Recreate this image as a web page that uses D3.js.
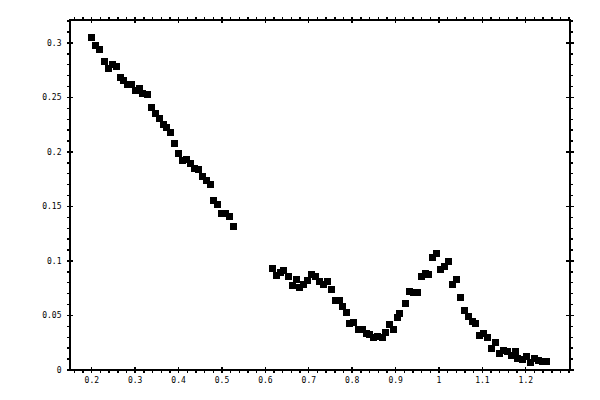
<!DOCTYPE html>
<html><head><meta charset="utf-8">
<script src="https://cdn.jsdelivr.net/npm/d3@7"></script>
<style>body{margin:0;background:#fff}svg{display:block}</style>
</head><body><svg id="c" width="600" height="400"></svg>
<script>
// data
const xValues = [
  0.2009, 0.2108, 0.2200, 0.2300, 0.2392, 0.2484, 0.2585, 0.2668, 0.2747, 0.2839,
  0.2931, 0.3023, 0.3106, 0.3184, 0.3290, 0.3392, 0.3475, 0.3567, 0.3668, 0.3737,
  0.3820, 0.3922, 0.4005, 0.4097, 0.4189, 0.4281, 0.4373, 0.4465, 0.4558, 0.4650,
  0.4742, 0.4811, 0.4903, 0.4995, 0.5088, 0.5180, 0.5272,
  0.617, 0.626, 0.635, 0.644, 0.654, 0.663, 0.672, 0.679, 0.688, 0.698,
  0.707, 0.716, 0.725, 0.735, 0.744, 0.753, 0.762, 0.771, 0.778, 0.787,
  0.796, 0.805, 0.815, 0.824, 0.833, 0.842, 0.851, 0.860, 0.870, 0.878,
  0.888, 0.896, 0.905, 0.911, 0.923, 0.933, 0.942, 0.951, 0.960, 0.969,
  0.977, 0.986, 0.995, 1.004, 1.013, 1.023, 1.032, 1.041, 1.050, 1.059,
  1.069, 1.078, 1.086, 1.095, 1.104, 1.113, 1.123, 1.132, 1.141, 1.150,
  1.159, 1.169, 1.177, 1.183, 1.193, 1.202, 1.212, 1.221, 1.230, 1.239, 1.248
];
const yValues = [
  0.3049, 0.2972, 0.2936, 0.2826, 0.2764, 0.2794, 0.2780, 0.2679, 0.2651, 0.2611,
  0.2611, 0.2560, 0.2581, 0.2528, 0.2523, 0.2404, 0.2349, 0.2303, 0.2244, 0.2217,
  0.2174, 0.2073, 0.1982, 0.1917, 0.1927, 0.1890, 0.1844, 0.1835, 0.1773, 0.1734,
  0.1700, 0.1553, 0.1514, 0.1431, 0.1431, 0.1400, 0.1312,
  0.0927, 0.0862, 0.0886, 0.0905, 0.0856, 0.0771, 0.0826, 0.0752, 0.0776, 0.0817,
  0.0872, 0.0853, 0.0807, 0.0783, 0.0807, 0.0737, 0.0633, 0.0633, 0.0574, 0.0526,
  0.0425, 0.0434, 0.0367, 0.0367, 0.0333, 0.0324, 0.0294, 0.0306, 0.0294, 0.0336,
  0.0416, 0.0367, 0.0480, 0.0514, 0.0608, 0.0716, 0.0706, 0.0706, 0.0856, 0.0881,
  0.0874, 0.1028, 0.1064, 0.0920, 0.0945, 0.0991, 0.0783, 0.0828, 0.0663, 0.0541,
  0.0486, 0.0440, 0.0425, 0.0312, 0.0330, 0.0294, 0.0193, 0.0248, 0.0147, 0.0177,
  0.0165, 0.0131, 0.0168, 0.0101, 0.0092, 0.0122, 0.0064, 0.0097, 0.0085, 0.0076, 0.0076
];
const xTickValues = [0.2, 0.3, 0.4, 0.5, 0.6, 0.7, 0.8, 0.9, 1.0, 1.1, 1.2];
const xTickLabels = ["0.2", "0.3", "0.4", "0.5", "0.6", "0.7", "0.8", "0.9", "1", "1.1", "1.2"];
const yTickValues = [0, 0.05, 0.1, 0.15, 0.2, 0.25, 0.3];
const yTickLabels = ["0", "0.05", "0.1", "0.15", "0.2", "0.25", "0.3"];

const svg = d3.select("#c");
const L = 69.5, R = 570, T = 19.5, B = 369.5;
const x = d3.scaleLinear().domain([0.1498, 1.303]).range([L, R]);
const y = d3.scaleLinear().domain([0, 0.3211]).range([B, T]);

const xMinor = x.ticks(58).filter(v => !xTickValues.some(t => Math.abs(t - v) < 1e-6));
const yMinor = y.ticks(32).filter(v => !yTickValues.some(t => Math.abs(t - v) < 1e-6));

const font = "'DejaVu Sans Mono', monospace";
function style(g) {
  g.select(".domain").remove();
  g.selectAll("line").attr("stroke", "#000").attr("stroke-width", 1.4).attr("shape-rendering", "crispEdges");
  g.selectAll("text").attr("font-family", font).attr("font-size", 8).attr("fill", "#000");
}

// bottom
svg.append("g").attr("transform", `translate(0,${B})`)
  .call(d3.axisBottom(x).tickValues(xMinor).tickSize(3).tickFormat("")).call(style);
svg.append("g").attr("transform", `translate(0,${B})`)
  .call(d3.axisBottom(x).tickValues(xTickValues).tickSize(3).tickPadding(5)
    .tickFormat((d, i) => xTickLabels[i])).call(style)
  .call(g => g.selectAll("line").attr("y1", -3))
  .call(g => g.selectAll("text").attr("y", 8));
// top
svg.append("g").attr("transform", `translate(0,${T})`)
  .call(d3.axisTop(x).tickValues(xMinor).tickSize(3).tickFormat("")).call(style);
svg.append("g").attr("transform", `translate(0,${T})`)
  .call(d3.axisTop(x).tickValues(xTickValues).tickSize(3).tickFormat("")).call(style)
  .call(g => g.selectAll("line").attr("y1", 3));
// left
svg.append("g").attr("transform", `translate(${L},0)`)
  .call(d3.axisLeft(y).tickValues(yMinor).tickSize(3).tickFormat("")).call(style);
svg.append("g").attr("transform", `translate(${L},0)`)
  .call(d3.axisLeft(y).tickValues(yTickValues).tickSize(3).tickPadding(5)
    .tickFormat((d, i) => yTickLabels[i])).call(style)
  .call(g => g.selectAll("line").attr("x1", 3));
// right
svg.append("g").attr("transform", `translate(${R},0)`)
  .call(d3.axisRight(y).tickValues(yMinor).tickSize(3).tickFormat("")).call(style);
svg.append("g").attr("transform", `translate(${R},0)`)
  .call(d3.axisRight(y).tickValues(yTickValues).tickSize(4).tickFormat("")).call(style)
  .call(g => g.selectAll("line").attr("x1", -4));

// frame
svg.append("rect").attr("x", L).attr("y", T).attr("width", R - L).attr("height", B - T)
  .attr("fill", "none").attr("stroke", "#000").attr("stroke-width", 2).attr("shape-rendering", "crispEdges");

// points
const S = 7;
svg.append("g").selectAll("rect").data(xValues.map((v, i) => [v, yValues[i]])).join("rect")
  .attr("x", d => x(d[0]) - S / 2).attr("y", d => y(d[1]) - S / 2)
  .attr("width", S).attr("height", S).attr("fill", "#000").attr("shape-rendering", "crispEdges");
</script></body></html>
